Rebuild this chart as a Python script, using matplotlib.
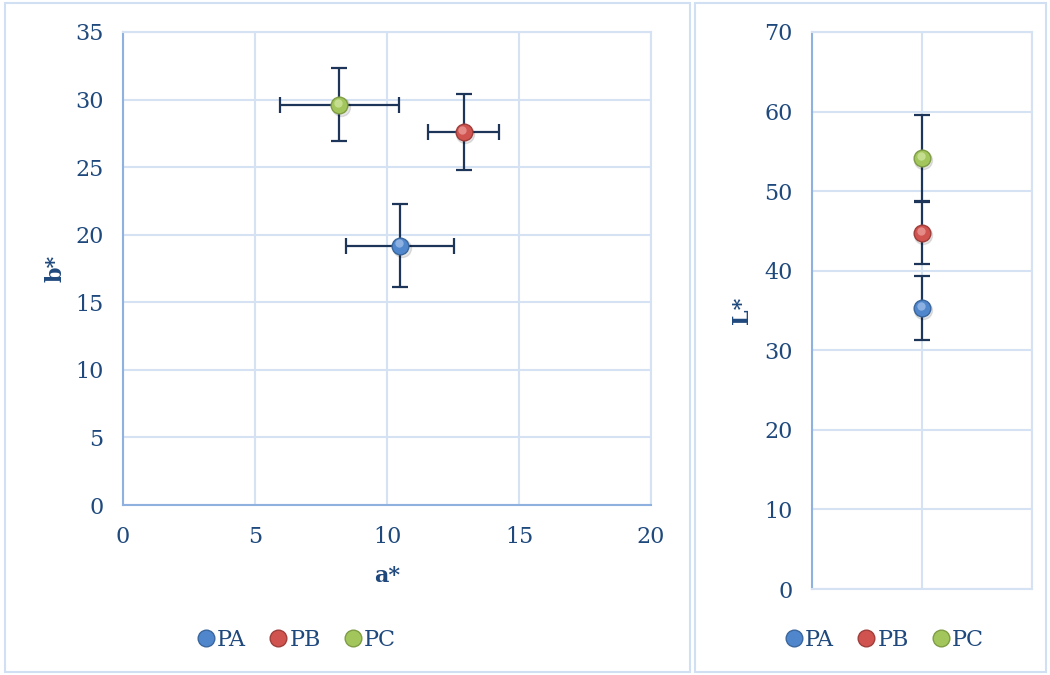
import matplotlib.pyplot as plt
from matplotlib.patches import Rectangle
from matplotlib.transforms import ScaledTranslation

# colour coordinates per sample
samples = ["PA", "PB", "PC"]
a_star = [10.5, 12.9, 8.2]
a_err = [2.05, 1.33, 2.25]
b_star = [19.2, 27.6, 29.6]
b_err = [3.1, 2.8, 2.7]
L_star = [35.3, 44.7, 54.2]
L_err = [4.0, 3.9, 5.4]
L_pos = [1, 1, 1]

colors = ["#5086cc", "#d0534f", "#a2c65c"]
edges = ["#3a679e", "#a03e3b", "#7f9d45"]
highlights = ["#b3cdf0", "#f2b0ae", "#dcedb2"]
text_col = "#1f497d"
err_col = "#1c3559"
grid_col = "#d4e2f4"
spine_col = "#8fb1df"

plt.rcParams["font.family"] = ["DejaVu Serif"]

fig = plt.figure(figsize=(10.5, 6.75), dpi=100)

# chart frames
fig.add_artist(Rectangle((5 / 1050, 3 / 675), 685 / 1050, 669 / 675, transform=fig.transFigure,
                         fill=False, edgecolor="#d0dff2", lw=1.5))
fig.add_artist(Rectangle((695 / 1050, 3 / 675), 351 / 1050, 669 / 675, transform=fig.transFigure,
                         fill=False, edgecolor="#d0dff2", lw=1.5))

ax1 = fig.add_axes([123 / 1050, 170 / 675, 528 / 1050, 473 / 675])
ax2 = fig.add_axes([812 / 1050, 86 / 675, 220 / 1050, 557 / 675])


def shifted(ax, dx, dy):
    return ax.transData + ScaledTranslation(dx / 72, dy / 72, fig.dpi_scale_trans)


def draw_points(ax, xs, ys, xerr, yerr):
    for i in range(len(samples)):
        ax.errorbar(xs[i], ys[i], xerr=None if xerr is None else xerr[i], yerr=yerr[i],
                    fmt="none", ecolor=err_col, elinewidth=1.6, capsize=5.5, capthick=1.6, zorder=3)
    for i in range(len(samples)):
        # soft shadow, sphere body, gloss
        ax.plot(xs[i], ys[i], "o", ms=13, color="#000000", alpha=0.10, zorder=4,
                transform=shifted(ax, 1, -1.5))
        ax.plot(xs[i], ys[i], "o", ms=12, mfc=colors[i], mec=edges[i], mew=1, zorder=5)
        ax.plot(xs[i], ys[i], "o", ms=6, mfc=highlights[i], mec="none", alpha=0.6, zorder=6,
                transform=shifted(ax, -1, 1.5))


def style_axis(ax):
    ax.grid(True, color=grid_col, lw=1.5)
    ax.set_axisbelow(True)
    for side in ["top", "right", "bottom"]:
        ax.spines[side].set_color(grid_col)
        ax.spines[side].set_linewidth(1.5)
    ax.spines["left"].set_color(spine_col)
    ax.spines["left"].set_linewidth(1.5)
    ax.tick_params(length=0, labelsize=16, labelcolor=text_col, pad=14)


draw_points(ax1, a_star, b_star, a_err, b_err)
style_axis(ax1)
ax1.spines["bottom"].set_color(spine_col)
ax1.set_xlim(0, 20)
ax1.set_ylim(0, 35)
ax1.set_xticks(range(0, 21, 5))
ax1.set_yticks(range(0, 36, 5))
ax1.set_xlabel("a*", fontsize=16, fontweight="bold", color=text_col, labelpad=12)
ax1.set_ylabel("b*", fontsize=16, fontweight="bold", color=text_col, labelpad=6)
ax1.tick_params(axis="x", pad=15)

draw_points(ax2, L_pos, L_star, None, L_err)
style_axis(ax2)
ax2.set_xlim(0, 2)
ax2.set_ylim(0, 70)
ax2.set_xticks([0, 1, 2])
ax2.set_xticklabels([])
ax2.set_yticks(range(0, 71, 10))
ax2.set_ylabel("L*", fontsize=16, fontweight="bold", color=text_col, labelpad=8)

for cx in [296 / 1050, 884 / 1050]:
    handles = [plt.Line2D([], [], ls="none", marker="o", ms=12, mfc=colors[i], mec=edges[i])
               for i in range(len(samples))]
    fig.legend(handles, samples, loc="center", bbox_to_anchor=(cx, 1 - 640 / 675), ncol=3, frameon=False,
               fontsize=16, labelcolor=text_col, handletextpad=0.05, columnspacing=1.0, handlelength=0.9)

fig.savefig("out.png", dpi=100)
